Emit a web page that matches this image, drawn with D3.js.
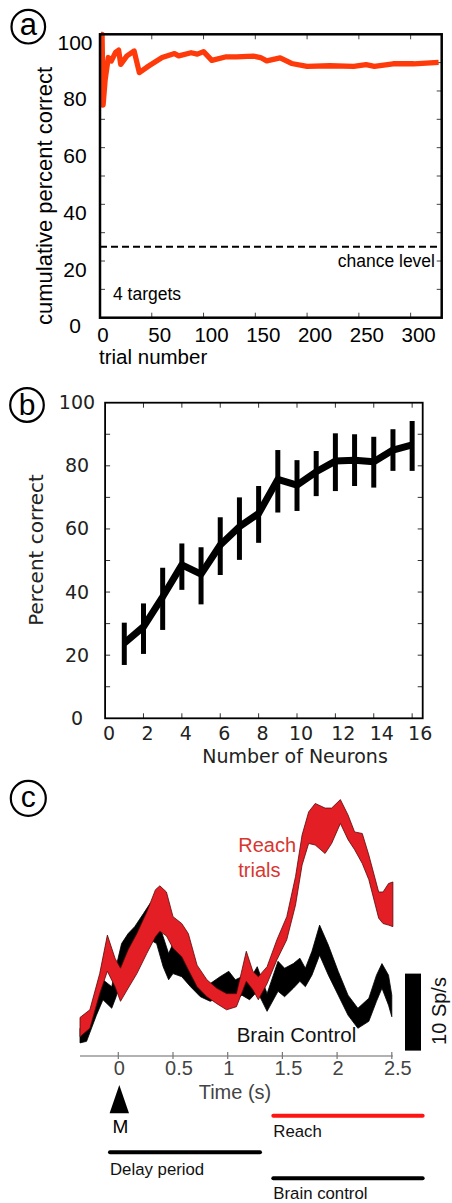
<!DOCTYPE html>
<html><head><meta charset="utf-8">
<script src="https://cdn.jsdelivr.net/npm/d3@7"></script>
<style>body{margin:0;background:#fff} svg{display:block}</style>
</head><body>
<svg id="chart" width="452" height="1203"></svg>
<script>
// ---------- Panel a data ----------
const trialNumbers = [1, 2, 3, 5, 8, 11, 15, 18, 20, 26, 33, 38, 47, 60, 72, 76, 88, 94, 100, 108, 121, 132, 148, 155, 161, 174, 185, 200, 222, 245, 257, 265, 283, 303, 327];
const cumulativePct = [100, 100, 75, 84, 91.8, 90.6, 93.6, 94.4, 89.4, 92.4, 94.1, 86.5, 88.8, 91.8, 93.2, 92.4, 93.5, 93.0, 93.9, 90.8, 92.0, 92.0, 92.3, 91.8, 90.6, 91.7, 89.7, 88.7, 88.9, 88.7, 89.3, 88.7, 89.6, 89.6, 90.1];
const chanceLevel = 25;
const aXTicks = [0, 50, 100, 150, 200, 250, 300];
const aYTicks = [0, 20, 40, 60, 80, 100];

// ---------- Panel b data ----------
const neuronCounts = [1, 2, 3, 4, 5, 6, 7, 8, 9, 10, 11, 12, 13, 14, 15, 16];
const pctCorrect = [23.8, 29.0, 38.5, 48.6, 45.7, 54.9, 60.7, 64.9, 75.7, 73.9, 78.1, 81.5, 81.8, 81.3, 85.0, 86.6];
const errLow = [16.9, 20.4, 28.0, 40.7, 36.1, 45.4, 50.2, 55.6, 65.2, 65.7, 70.4, 72.0, 73.6, 73.1, 78.4, 78.4];
const errHigh = [30.3, 36.4, 47.7, 55.4, 54.2, 63.7, 70.0, 73.6, 85.0, 81.8, 84.7, 90.3, 90.0, 89.2, 91.6, 94.2];
const bXTicks = [0, 2, 4, 6, 8, 10, 12, 14, 16];
const bYTicks = [0, 20, 40, 60, 80, 100];

// ---------- Panel c data (time in s, rate in Sp/s) ----------
const redTime = [-0.35, -0.26, -0.17, -0.10, -0.03, 0.02, 0.09, 0.17, 0.26, 0.34, 0.38, 0.44, 0.50, 0.58, 0.64, 0.72, 0.81, 0.90, 0.99, 1.08, 1.17, 1.23, 1.28, 1.36, 1.45, 1.54, 1.62, 1.68, 1.74, 1.80, 1.89, 1.95, 2.03, 2.10, 2.16, 2.23, 2.29, 2.38, 2.42, 2.47, 2.51];
const redUpper = [5.0, 6.0, 10.7, 15.7, 12.7, 11.4, 13.8, 15.9, 18.7, 21.6, 22.1, 21.3, 18.1, 17.2, 15.9, 11.8, 9.9, 8.8, 8.1, 8.1, 13.6, 11.0, 10.3, 11.6, 15.1, 18.1, 23.3, 28.7, 31.7, 32.8, 32.2, 32.2, 33.3, 31.3, 29.1, 28.9, 26.1, 21.3, 21.3, 22.4, 22.6];
const redLower = [2.5, 3.6, 8.1, 11.0, 9.0, 7.1, 8.8, 10.7, 13.3, 15.5, 16.2, 15.6, 14.0, 12.9, 11.2, 9.0, 7.7, 6.8, 6.0, 6.4, 9.7, 8.6, 7.3, 9.4, 12.5, 15.1, 19.6, 24.8, 27.6, 27.4, 26.3, 27.6, 30.2, 28.1, 26.8, 25.0, 22.9, 17.9, 17.2, 17.0, 16.8];
const blackTime = [-0.35, -0.29, -0.20, -0.14, -0.06, -0.02, 0.03, 0.09, 0.15, 0.23, 0.29, 0.35, 0.41, 0.46, 0.50, 0.58, 0.66, 0.75, 0.84, 0.93, 1.01, 1.07, 1.13, 1.20, 1.27, 1.36, 1.46, 1.52, 1.60, 1.66, 1.71, 1.77, 1.84, 1.92, 2.01, 2.10, 2.19, 2.29, 2.36, 2.41, 2.47, 2.50];
const blackUpper = [3.6, 4.0, 7.7, 9.9, 9.0, 11.6, 14.6, 15.9, 16.8, 18.5, 19.8, 18.1, 15.5, 13.3, 14.6, 13.8, 11.6, 9.9, 9.4, 10.3, 11.0, 9.9, 10.3, 9.9, 11.6, 8.1, 12.3, 11.4, 12.0, 12.7, 11.4, 13.6, 17.0, 14.4, 11.0, 7.9, 6.2, 7.5, 10.5, 12.0, 10.5, 7.9];
const blackLower = [1.7, 1.9, 5.3, 7.3, 6.2, 7.7, 10.3, 11.2, 12.5, 13.8, 15.1, 14.6, 11.6, 9.9, 10.7, 10.3, 9.0, 7.7, 7.1, 7.7, 8.1, 7.3, 7.9, 7.3, 8.4, 5.8, 8.4, 7.7, 8.8, 9.7, 9.0, 10.5, 13.1, 10.5, 7.9, 5.3, 3.6, 4.5, 7.1, 8.8, 6.6, 5.1];
const cXTicks = [0, 0.5, 1, 1.5, 2, 2.5];
const cTickLabels = ["0", "0.5", "1", "1.5", "2", "2.5"];
const scaleBarRange = [0.7, 10.7];   // 10 Sp/s
const delayPeriod = [-0.076, 1.295];
const reachPeriod = [1.417, 2.782];
const brainPeriod = [1.417, 2.782];

const svg = d3.select("#chart");
const ARIAL = "'Liberation Sans', Arial, sans-serif";
const DEJAVU = "'DejaVu Sans', Verdana, sans-serif";

function panelLabel(cx, cy, r, letter, fs, baseY) {
  svg.append("circle").attr("cx", cx).attr("cy", cy).attr("r", r)
    .attr("fill", "none").attr("stroke", "#000").attr("stroke-width", 2.2);
  svg.append("text").attr("x", cx).attr("y", baseY).attr("text-anchor", "middle")
    .attr("font-family", ARIAL).attr("font-size", fs).text(letter);
}

// ================= Panel a =================
{
  const x = d3.scaleLinear().domain([0, 330]).range([100, 441.7]);
  const y = d3.scaleLinear().domain([0, 100]).range([317.7, 34.3]);
  const g = svg.append("g");
  const yMinor = d3.range(10, 100, 10);
  g.selectAll(".yl").data(yMinor).join("line")
    .attr("x1", x(0)).attr("x2", x(0) + 5).attr("y1", d => y(d)).attr("y2", d => y(d))
    .attr("stroke", "#444").attr("stroke-width", 1);
  g.selectAll(".yr").data(yMinor).join("line")
    .attr("x1", x(330)).attr("x2", x(330) - 5).attr("y1", d => y(d)).attr("y2", d => y(d))
    .attr("stroke", "#444").attr("stroke-width", 1);
  g.selectAll(".xt").data(aXTicks.slice(1)).join("line")
    .attr("x1", d => x(d)).attr("x2", d => x(d)).attr("y1", y(100)).attr("y2", y(100) + 5)
    .attr("stroke", "#444").attr("stroke-width", 1);
  g.selectAll(".xb").data(aXTicks.slice(1)).join("line")
    .attr("x1", d => x(d)).attr("x2", d => x(d)).attr("y1", y(0)).attr("y2", y(0) - 5)
    .attr("stroke", "#444").attr("stroke-width", 1);
  g.append("line").attr("x1", x(0)).attr("x2", x(330)).attr("y1", y(chanceLevel)).attr("y2", y(chanceLevel))
    .attr("stroke", "#000").attr("stroke-width", 2).attr("stroke-dasharray", "7,4");
  g.append("text").attr("x", 435).attr("y", 266.7).attr("text-anchor", "end")
    .attr("font-family", ARIAL).attr("font-size", 17.5).text("chance level");
  g.append("text").attr("x", 113).attr("y", 299.5)
    .attr("font-family", ARIAL).attr("font-size", 17.5).text("4 targets");
  const line = d3.line().x((d, i) => x(trialNumbers[i])).y(d => y(d));
  g.append("path").attr("d", line(cumulativePct)).attr("fill", "none")
    .attr("stroke", "#ff3a0a").attr("stroke-width", 5.3).attr("stroke-linejoin", "round");
  g.append("rect").attr("x", x(0)).attr("y", y(100)).attr("width", x(330) - x(0)).attr("height", y(0) - y(100))
    .attr("fill", "none").attr("stroke", "#000").attr("stroke-width", 2.5);
  g.selectAll(".ytl").data(aYTicks).join("text")
    .attr("x", 75).attr("y", d => y(d) + 15.5).attr("text-anchor", "middle")
    .attr("font-family", ARIAL).attr("font-size", 21).text(d => d);
  g.selectAll(".xtl").data(aXTicks).join("text")
    .attr("x", d => x(d) + (d === 0 ? 3 : 8)).attr("y", 342).attr("text-anchor", "middle")
    .attr("font-family", ARIAL).attr("font-size", 20.5).text(d => d);
  g.append("text").attr("x", 99).attr("y", 364).attr("font-family", ARIAL).attr("font-size", 20.5).text("trial number");
  g.append("text").attr("transform", "translate(52,196) rotate(-90)").attr("text-anchor", "middle")
    .attr("font-family", ARIAL).attr("font-size", 22).text("cumulative percent correct");
  panelLabel(28.3, 26.7, 16.8, "a", 31, 35);
}

// ================= Panel b =================
{
  const x = d3.scaleLinear().domain([0, 16.55]).range([105.1, 422.7]);
  const y = d3.scaleLinear().domain([0, 100]).range([718.3, 402.7]);
  const g = svg.append("g");
  const yMinor = d3.range(10, 100, 10);
  g.selectAll(".yl").data(yMinor).join("line")
    .attr("x1", x(0)).attr("x2", x(0) + 5).attr("y1", d => y(d)).attr("y2", d => y(d))
    .attr("stroke", "#333").attr("stroke-width", 1);
  g.selectAll(".yr").data(yMinor).join("line")
    .attr("x1", x(16.55)).attr("x2", x(16.55) - 5).attr("y1", d => y(d)).attr("y2", d => y(d))
    .attr("stroke", "#333").attr("stroke-width", 1);
  g.selectAll(".xb").data(bXTicks.slice(1)).join("line")
    .attr("x1", d => x(d)).attr("x2", d => x(d)).attr("y1", y(0)).attr("y2", y(0) - 5)
    .attr("stroke", "#333").attr("stroke-width", 1);
  g.selectAll(".xt").data(bXTicks.slice(1)).join("line")
    .attr("x1", d => x(d)).attr("x2", d => x(d)).attr("y1", y(100)).attr("y2", y(100) + 5)
    .attr("stroke", "#333").attr("stroke-width", 1);
  g.selectAll(".err").data(neuronCounts).join("line")
    .attr("x1", d => x(d)).attr("x2", d => x(d))
    .attr("y1", (d, i) => y(errLow[i])).attr("y2", (d, i) => y(errHigh[i]))
    .attr("stroke", "#000").attr("stroke-width", 5);
  const line = d3.line().x((d, i) => x(neuronCounts[i])).y(d => y(d));
  g.append("path").attr("d", line(pctCorrect)).attr("fill", "none")
    .attr("stroke", "#000").attr("stroke-width", 7).attr("stroke-linejoin", "round");
  g.append("rect").attr("x", x(0)).attr("y", y(100)).attr("width", x(16.55) - x(0)).attr("height", y(0) - y(100))
    .attr("fill", "none").attr("stroke", "#000").attr("stroke-width", 1.8);
  g.selectAll(".ytl").data(bYTicks).join("text")
    .attr("x", 77).attr("y", d => y(d) + 6.5).attr("text-anchor", "middle")
    .attr("font-family", DEJAVU).attr("font-size", 19).attr("fill", "#222").text(d => d);
  g.selectAll(".xtl").data(bXTicks).join("text")
    .attr("x", d => x(d) + (d >= 12 ? 8 : 4)).attr("y", 740).attr("text-anchor", "middle")
    .attr("font-family", DEJAVU).attr("font-size", 19).attr("fill", "#222").text(d => d);
  g.append("text").attr("x", 295).attr("y", 763).attr("text-anchor", "middle")
    .attr("font-family", DEJAVU).attr("font-size", 19).attr("fill", "#222").text("Number of Neurons");
  g.append("text").attr("transform", "translate(43,550) rotate(-90)").attr("text-anchor", "middle")
    .attr("font-family", DEJAVU).attr("font-size", 20).attr("fill", "#222").text("Percent correct");
  panelLabel(27, 405, 16.8, "b", 30, 415);
}

// ================= Panel c =================
{
  const x = d3.scaleLinear().domain([0, 2.5]).range([118.3, 391.8]);
  const y = d3.scaleLinear().domain([0, 40]).range([1056, 748]);
  const g = svg.append("g");
  g.append("text").attr("x", 236.7).attr("y", 1041.7).attr("font-family", ARIAL).attr("font-size", 20.5)
    .attr("fill", "#111").text("Brain Control");
  g.append("text").attr("x", 238.3).attr("y", 851.7).attr("font-family", ARIAL).attr("font-size", 20)
    .attr("fill", "#d8362f").text("Reach");
  g.append("text").attr("x", 238.3).attr("y", 876.7).attr("font-family", ARIAL).attr("font-size", 20)
    .attr("fill", "#d8362f").text("trials");
  const blackArea = d3.area().x((d, i) => x(blackTime[i])).y0((d, i) => y(blackLower[i])).y1(d => y(d));
  g.append("path").attr("d", blackArea(blackUpper)).attr("fill", "#000").attr("stroke", "#000").attr("stroke-width", 0.8);
  const redArea = d3.area().x((d, i) => x(redTime[i])).y0((d, i) => y(redLower[i])).y1(d => y(d));
  g.append("path").attr("d", redArea(redUpper)).attr("fill", "#e41e25").attr("stroke", "#5a0808").attr("stroke-width", 0.8);
  g.append("line").attr("x1", x(-0.35)).attr("x2", x(2.51)).attr("y1", y(0)).attr("y2", y(0))
    .attr("stroke", "#999").attr("stroke-width", 1.3);
  g.selectAll(".ct").data(cXTicks).join("line")
    .attr("x1", d => x(d)).attr("x2", d => x(d)).attr("y1", y(0) - 4).attr("y2", y(0) + 3)
    .attr("stroke", "#777").attr("stroke-width", 1.2);
  g.selectAll(".ctl").data(cXTicks).join("text")
    .attr("x", (d, i) => x(d) + (cTickLabels[i].length > 1 ? 6 : 1)).attr("y", 1075).attr("text-anchor", "middle")
    .attr("font-family", ARIAL).attr("font-size", 20).attr("fill", "#444").text((d, i) => cTickLabels[i]);
  g.append("text").attr("x", 235).attr("y", 1099).attr("text-anchor", "middle")
    .attr("font-family", ARIAL).attr("font-size", 20).attr("fill", "#444").text("Time (s)");
  g.append("rect").attr("x", 405).attr("width", 16)
    .attr("y", y(scaleBarRange[1])).attr("height", y(scaleBarRange[0]) - y(scaleBarRange[1])).attr("fill", "#000");
  g.append("text").attr("transform", "translate(446,1011) rotate(-90)").attr("text-anchor", "middle")
    .attr("font-family", ARIAL).attr("font-size", 20).attr("fill", "#111").text("10 Sp/s");
  const mx = x(0) + 1;
  g.append("path").attr("d", `M${mx},1085 L${mx + 9.7},1113.3 L${mx - 9.7},1113.3 Z`).attr("fill", "#000");
  g.append("text").attr("x", mx + 1).attr("y", 1133.3).attr("text-anchor", "middle")
    .attr("font-family", ARIAL).attr("font-size", 19).text("M");
  function period(p, yy, color, label, ty) {
    g.append("line").attr("x1", x(p[0])).attr("x2", x(p[1])).attr("y1", yy).attr("y2", yy)
      .attr("stroke", color).attr("stroke-width", 4).attr("stroke-linecap", "round");
    g.append("text").attr("x", x(p[0])).attr("y", ty).attr("font-family", ARIAL).attr("font-size", 16.8)
      .attr("fill", "#111").text(label);
  }
  period(reachPeriod, 1115.7, "#ff1414", "Reach", 1137.3);
  period(delayPeriod, 1152.3, "#000", "Delay period", 1174.5);
  period(brainPeriod, 1178.3, "#000", "Brain control", 1198.5);
  panelLabel(28.3, 798.3, 17.5, "c", 30, 806.7);
}
</script>
</body></html>
